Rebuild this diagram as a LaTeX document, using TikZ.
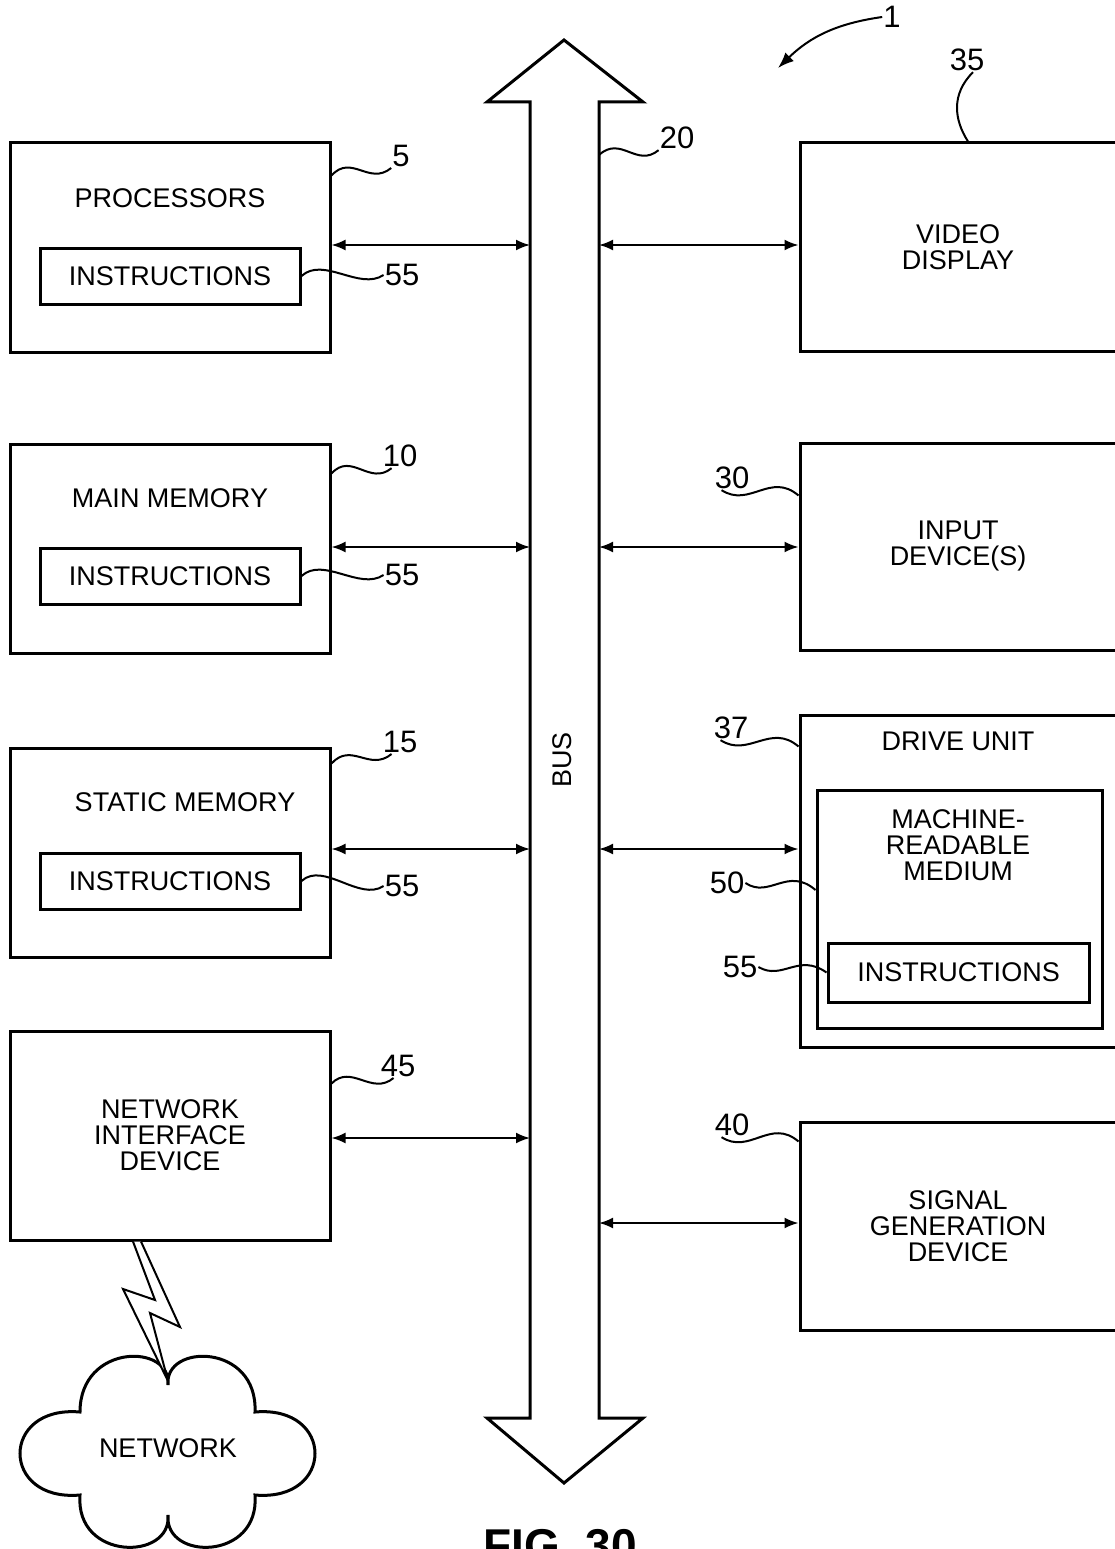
\documentclass[tikz,border=0pt]{standalone}
\usepackage{fontspec}
\setmainfont{Liberation Sans}
\usetikzlibrary{arrows.meta,calc}
\tikzset{
  box/.style={draw, line width=3pt, inner sep=0pt, align=center,
    font=\fontsize{27}{26}\selectfont},
  btxt/.style={font=\fontsize{27}{26}\selectfont, align=center, inner sep=0pt},
  num/.style={font=\fontsize{31}{31}\selectfont, inner sep=1pt},
  conn/.style={line width=2pt, {Latex[length=14pt,width=11pt]}-{Latex[length=14pt,width=11pt]}},
  lead/.style={line width=2pt},
}

\begin{document}
\begin{tikzpicture}[x=1pt,y=-1pt]
  \useasboundingbox (0,0) rectangle (1114,1549);

  % bus
  \draw[line width=3pt] (564,40) -- (643,102) -- (599,102) -- (599,1418)
    -- (643,1418) -- (564,1483) -- (487,1418) -- (530,1418) -- (530,102)
    -- (487,102) -- cycle;
  \node[btxt,rotate=90] (bus) at (562,760) {BUS};
  \coordinate (bl1) at (530,245);  \coordinate (br1) at (599,245);
  \coordinate (bl2) at (530,547);  \coordinate (br2) at (599,547);
  \coordinate (bl3) at (530,849);  \coordinate (br3) at (599,849);
  \coordinate (bl4) at (530,1138); \coordinate (br4) at (599,1223);
  \coordinate (btop) at (599,155);

  % left column
  \node[box,minimum width=320,minimum height=209] (proc) at (170,247.5) {};
  \node[btxt] (procT) at (170,198) {PROCESSORS};
  \node[box,minimum width=260,minimum height=56] (procI) at (170,276) {INSTRUCTIONS};

  \node[box,minimum width=320,minimum height=209] (mem) at (170,548.5) {};
  \node[btxt] (memT) at (170,498) {MAIN MEMORY};
  \node[box,minimum width=260,minimum height=56] (memI) at (170,576) {INSTRUCTIONS};

  \node[box,minimum width=320,minimum height=209] (stat) at (170,852.5) {};
  \node[btxt] (statT) at (185,802) {STATIC MEMORY};
  \node[box,minimum width=260,minimum height=56] (statI) at (170,881) {INSTRUCTIONS};

  \node[box,minimum width=320,minimum height=209] (nid) at (170,1135.5)
    {NETWORK\\INTERFACE\\DEVICE};

  % right column (runs off the right edge)
  \node[box,minimum width=316,minimum height=208] (vid) at (958,247) {VIDEO\\DISPLAY};
  \node[box,minimum width=316,minimum height=207] (inp) at (958,546.5) {INPUT\\DEVICE(S)};
  \node[box,minimum width=316,minimum height=332] (drv) at (958,881) {};
  \node[btxt] (drvT) at (958,741) {DRIVE UNIT};
  \node[box,minimum width=285,minimum height=238] (mrm) at (959.5,909) {};
  \node[btxt] (mrmT) at (958,845) {MACHINE-\\READABLE\\MEDIUM};
  \node[box,minimum width=261,minimum height=59] (drvI) at (958.5,972.5) {INSTRUCTIONS};
  \node[box,minimum width=316,minimum height=208] (sig) at (958,1226)
    {SIGNAL\\GENERATION\\DEVICE};

  % network cloud
  \node[btxt] (net) at (168,1448) {NETWORK};
  \draw[line width=3pt] (168,1385)
    .. controls (172,1343) and (80,1343) .. (80,1412)   % upper left puff
    .. controls (0,1405) and (0,1502) .. (80,1495)       % left puff
    .. controls (75,1561) and (172,1561) .. (168,1515)   % lower left puff
    .. controls (164,1561) and (260,1561) .. (255,1495)  % lower right puff
    .. controls (335,1502) and (335,1405) .. (255,1412)  % right puff
    .. controls (258,1343) and (164,1343) .. cycle;      % upper right puff
  % wireless link
  \draw[line width=2pt,fill=white] ([xshift=-37pt]nid.south) -- (155,1300) -- (123,1289)
    -- (168,1381) -- (150,1313) -- (180,1327) -- ([xshift=-29pt]nid.south);

  % bus connections
  \draw[conn] (proc.east |- bl1) -- (bl1);
  \draw[conn] (mem.east |- bl2) -- (bl2);
  \draw[conn] (stat.east |- bl3) -- (bl3);
  \draw[conn] (nid.east |- bl4) -- (bl4);
  \draw[conn] (br1) -- (vid.west |- br1);
  \draw[conn] (br2) -- (inp.west |- br2);
  \draw[conn] (br3) -- (drv.west |- br3);
  \draw[conn] (br4) -- (sig.west |- br4);

  % reference numerals
  \node[num] (n1) at (892,17) {1};
  \coordinate (c1) at (778,68);
  \draw[lead,-{Latex[length=16pt,width=12pt]}] (n1.west) to[bend right=18] (c1);

  \node[num] (n20) at (677,138) {20};
  \draw[lead] (btop) .. controls +(22,-20) and +(-22,18) .. (n20.south west);

  \node[num] (n5) at (401,156) {5};
  \draw[lead] ([yshift=-34pt]proc.north east) .. controls +(20,-22) and +(-22,18) .. (n5.south west);
  \node[num] (n55a) at (402,275) {55};
  \draw[lead] (procI.east) .. controls +(22,-20) and +(-24,16) .. (n55a.west);

  \node[num] (n10) at (400,456) {10};
  \draw[lead] ([yshift=-31pt]mem.north east) .. controls +(20,-22) and +(-22,18) .. ([xshift=10pt]n10.south west);
  \node[num] (n55b) at (402,575) {55};
  \draw[lead] (memI.east) .. controls +(22,-20) and +(-24,16) .. (n55b.west);

  \node[num] (n15) at (400,742) {15};
  \draw[lead] ([yshift=-17pt]stat.north east) .. controls +(20,-22) and +(-22,18) .. ([xshift=10pt]n15.south west);
  \node[num] (n55c) at (402,886) {55};
  \draw[lead] (statI.east) .. controls +(22,-20) and +(-24,16) .. (n55c.west);

  \node[num] (n45) at (398,1066) {45};
  \draw[lead] ([yshift=-54pt]nid.north east) .. controls +(20,-20) and +(-22,18) .. ([xshift=14pt]n45.south west);

  \node[num] (n35) at (967,60) {35};
  \draw[lead] ([xshift=6pt]n35.south) .. controls +(-22,22) and +(-14,-22) .. ([xshift=10pt]vid.north);

  \node[num] (n30) at (732,478) {30};
  \draw[lead] ([xshift=8pt]n30.south west) .. controls +(28,18) and +(-28,-24) .. ([yshift=-54pt]inp.north west);

  \node[num] (n37) at (731,728) {37};
  \draw[lead] ([xshift=8pt]n37.south west) .. controls +(28,18) and +(-28,-24) .. ([yshift=-33pt]drv.north west);

  \node[num] (n50) at (727,883) {50};
  \draw[lead] (n50.east) .. controls +(24,16) and +(-28,-24) .. ([yshift=19pt]mrm.west);

  \node[num] (n55d) at (740,967) {55};
  \draw[lead] (n55d.east) .. controls +(24,14) and +(-28,-20) .. (drvI.west);

  \node[num] (n40) at (732,1125) {40};
  \draw[lead] ([xshift=8pt]n40.south west) .. controls +(28,18) and +(-28,-24) .. ([yshift=-21pt]sig.north west);

  \node[font=\fontsize{46}{46}\selectfont\bfseries,anchor=north,inner sep=0pt]
    (fig) at (560,1529) {FIG. 30};
\end{tikzpicture}
\end{document}
